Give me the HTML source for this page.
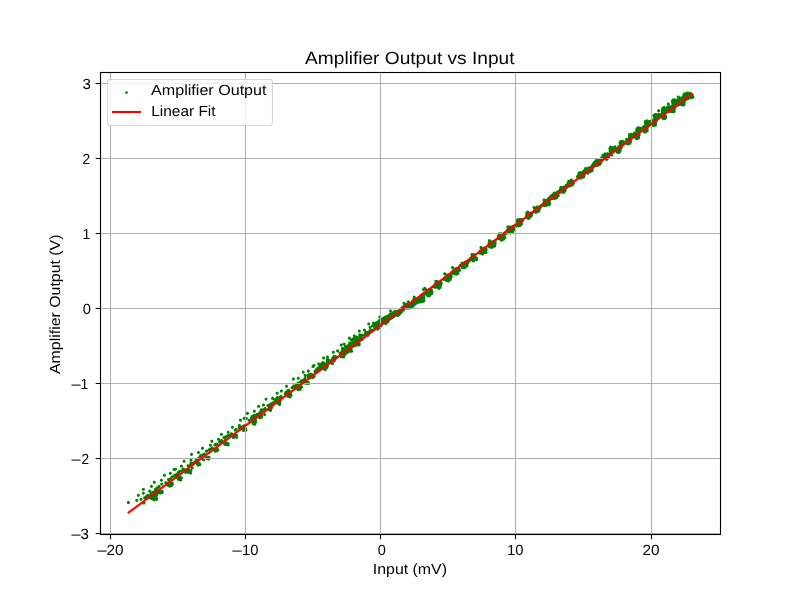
<!DOCTYPE html>
<html><head><meta charset="utf-8"><title>Amplifier Output vs Input</title><style>html,body{margin:0;padding:0;background:#fff;overflow:hidden}svg{display:block}text{text-rendering:geometricPrecision}</style></head>
<body><svg width="800" height="600" viewBox="0 0 800 600"><rect x="0" y="0" width="800" height="600" fill="#fff"/><path fill="#008000" fill-rule="evenodd" d="M197.88 451.09L197.37 451.42L197.04 451.93L196.92 452.52L197.04 453.11L197.37 453.62L197.88 453.95L198.47 454.07L199.06 453.95L199.57 453.62L199.90 453.11L200.02 452.52L199.90 451.93L199.57 451.42L199.06 451.09L198.47 450.97ZM190.94 452.90L190.43 453.23L190.10 453.74L189.98 454.33L190.10 454.92L190.43 455.43L190.94 455.76L191.53 455.88L192.12 455.76L192.63 455.43L192.96 454.92L193.08 454.33L192.96 453.74L192.63 453.23L192.12 452.90L191.53 452.78ZM199.96 454.29L199.27 454.87L199.03 455.42L198.95 455.99L198.27 456.38L197.93 456.89L197.83 457.30L197.03 457.56L196.60 457.99L196.41 458.40L195.61 458.50L194.92 459.07L194.65 459.93L194.82 460.62L193.00 461.53L192.33 462.18L191.90 461.75L191.26 461.51L191.86 461.28L192.43 460.58L192.55 459.99L192.29 459.13L191.59 458.56L191.00 458.44L190.41 458.56L189.90 458.89L189.48 459.69L189.57 460.58L190.14 461.28L190.78 461.52L190.18 461.75L189.61 462.45L189.45 463.40L189.58 464.02L188.83 464.44L188.11 464.25L187.51 464.37L186.82 464.94L186.56 465.80L186.67 466.39L187.01 466.90L187.51 467.23L188.11 467.35L188.70 467.23L189.21 466.89L189.93 467.08L190.79 466.82L191.32 466.20L196.52 462.03L196.61 461.69L196.42 461.46L196.80 461.36L197.30 461.03L197.68 460.38L198.48 460.28L198.99 459.94L199.32 459.44L199.42 459.03L199.96 458.91L200.46 458.58L200.89 457.77L201.57 457.38L201.91 456.87L203.34 456.25L203.91 455.55L204.60 455.57L205.39 455.15L205.73 454.64L205.84 454.05L205.73 453.46L205.39 452.96L204.89 452.62L204.29 452.50L203.43 452.76L202.86 453.46L202.17 453.44L201.03 453.89L200.58 454.18ZM183.21 459.98L182.78 460.41L182.55 460.97L182.55 461.57L182.78 462.13L183.21 462.56L183.77 462.79L184.37 462.79L184.93 462.56L185.36 462.13L185.59 461.57L185.59 460.97L185.36 460.41L184.93 459.98L184.37 459.75L183.77 459.75ZM198.62 461.75L198.03 462.19L197.14 462.11L196.58 462.34L196.15 462.77L195.92 463.32L196.01 464.22L196.55 464.89L196.55 465.46L196.79 466.02L197.21 466.44L197.77 466.67L198.67 466.59L199.21 466.20L199.73 466.30L200.32 466.18L201.02 465.61L201.25 465.05L201.25 464.45L201.02 463.89L200.71 463.56L200.73 462.88L200.50 462.32L200.07 461.90L199.51 461.66ZM180.81 464.64L180.30 464.97L179.97 465.48L179.85 466.07L179.97 466.66L180.30 467.17L180.81 467.50L181.40 467.62L181.99 467.50L182.50 467.17L182.83 466.66L182.95 466.07L182.83 465.48L182.50 464.97L181.99 464.64L181.40 464.52ZM191.68 466.62L190.98 467.19L190.75 467.75L190.84 468.64L191.32 469.27L190.87 469.19L190.20 469.35L189.79 468.63L189.00 468.20L188.10 468.29L187.39 468.90L186.84 468.98L185.20 467.91L184.36 468.25L183.86 467.70L183.30 467.47L182.70 467.47L182.14 467.70L181.71 468.13L181.48 468.69L181.59 469.61L180.61 470.01L180.29 469.82L179.70 469.70L178.83 469.96L178.41 470.39L178.18 470.92L177.34 471.18L176.91 471.61L176.68 472.17L176.70 472.84L176.16 473.06L175.69 473.57L174.95 473.38L174.09 473.64L173.66 474.06L173.42 474.80L172.97 475.10L172.65 475.59L172.23 475.43L171.63 475.43L170.83 475.85L170.41 476.65L170.46 477.40L169.88 477.52L169.37 477.86L168.68 477.97L167.45 478.62L167.11 479.12L167.02 480.02L167.45 480.81L168.20 481.22L167.65 481.45L167.16 482.00L166.89 481.62L166.39 481.28L165.49 481.20L164.70 481.62L164.36 482.12L164.27 483.02L164.50 483.58L164.86 483.95L165.12 484.74L165.81 485.31L166.44 485.42L166.69 486.13L167.11 486.55L167.67 486.79L168.19 486.79L168.55 487.34L169.34 487.77L170.23 487.68L170.84 487.21L171.62 487.27L172.41 486.84L172.81 486.14L173.18 485.97L173.60 485.54L173.84 484.98L173.84 484.38L173.60 483.81L173.71 482.89L173.48 482.33L172.78 481.76L172.19 481.64L171.64 481.74L171.13 481.15L170.57 480.92L169.96 480.92L169.17 481.34L168.86 481.23L169.86 480.83L170.37 480.49L170.77 480.47L171.33 480.24L171.90 479.54L172.02 478.95L171.94 478.50L172.79 478.24L173.35 477.56L174.07 477.75L174.85 477.53L175.10 478.31L175.53 478.74L176.09 478.97L176.93 478.90L176.86 479.35L176.98 479.94L177.31 480.45L177.82 480.78L178.41 480.90L179.22 480.67L179.56 481.19L180.35 481.61L180.96 481.61L181.52 481.38L182.09 480.68L182.20 480.09L182.02 479.36L182.52 479.03L182.85 478.53L182.94 477.63L182.52 476.84L181.78 476.43L181.24 475.80L180.38 475.54L179.74 475.68L179.63 475.00L179.04 474.29L179.70 473.74L179.93 473.18L179.95 472.77L180.56 472.54L181.01 472.07L181.49 472.21L184.69 471.15L185.80 470.35L185.90 471.01L185.33 471.01L184.77 471.24L184.34 471.67L184.11 472.23L184.20 473.12L184.77 473.82L185.33 474.05L185.94 474.05L186.49 473.82L187.06 473.14L187.37 473.42L187.93 473.65L188.54 473.65L189.08 473.43L189.50 474.21L190.00 474.54L190.59 474.66L191.19 474.54L191.88 473.97L192.11 473.41L192.11 472.81L191.71 472.04L192.16 471.60L192.42 470.74L192.30 470.15L191.82 469.52L192.57 469.57L193.13 469.34L193.70 468.64L193.82 468.05L193.70 467.46L193.13 466.76L192.27 466.50ZM174.67 467.98L174.07 467.93L173.48 468.05L172.97 468.38L172.64 468.89L172.52 469.48L172.64 470.07L172.97 470.58L173.48 470.91L174.07 471.03L174.66 470.91L174.99 470.72L175.83 470.79L176.63 470.37L176.96 469.86L177.05 468.97L176.63 468.17L176.12 467.84L175.53 467.72ZM169.74 471.89L169.23 472.22L168.90 472.73L168.78 473.32L168.90 473.91L169.23 474.42L169.74 474.75L170.33 474.87L170.92 474.75L171.43 474.42L171.76 473.91L171.88 473.32L171.76 472.73L171.43 472.22L170.92 471.89L170.33 471.77ZM163.61 474.06L163.18 474.49L162.95 475.05L162.95 475.65L163.18 476.21L163.61 476.64L164.17 476.87L164.77 476.87L165.33 476.64L165.76 476.21L165.99 475.65L165.99 475.05L165.76 474.49L165.33 474.06L164.77 473.83L164.17 473.83ZM160.62 478.96L160.19 479.39L159.96 479.95L159.96 480.55L160.19 481.11L160.62 481.54L161.18 481.77L161.78 481.77L162.34 481.54L162.77 481.11L163.00 480.55L163.00 479.95L162.77 479.39L162.34 478.96L161.78 478.73L161.18 478.73ZM153.74 480.85L153.23 481.18L152.90 481.69L152.78 482.28L152.90 482.87L153.23 483.38L153.74 483.71L154.33 483.83L154.92 483.71L155.43 483.38L155.76 482.87L155.88 482.28L155.76 481.69L155.43 481.18L154.92 480.85L154.33 480.73ZM161.21 482.77L160.70 483.10L160.37 483.61L160.25 484.20L160.37 484.79L160.70 485.30L161.21 485.63L161.80 485.75L162.39 485.63L162.90 485.30L163.23 484.79L163.35 484.20L163.23 483.61L162.90 483.10L162.39 482.77L161.80 482.65ZM150.86 484.90L150.35 485.23L150.02 485.74L149.90 486.33L150.02 486.92L150.35 487.43L150.86 487.76L151.45 487.88L152.04 487.76L152.55 487.43L152.88 486.92L153.00 486.33L152.88 485.74L152.55 485.23L152.04 484.90L151.45 484.78ZM158.27 485.04L157.70 485.74L157.60 486.52L156.69 486.60L156.19 486.94L155.82 487.56L154.98 487.65L154.29 488.22L154.02 489.09L154.14 489.68L154.37 490.05L153.82 490.40L153.53 490.82L152.94 490.70L152.35 490.82L151.85 491.15L151.47 491.78L151.16 491.76L151.27 490.83L151.04 490.27L150.61 489.84L149.75 489.58L149.16 489.70L148.65 490.03L148.32 490.54L148.23 491.43L148.46 491.99L148.89 492.42L149.45 492.65L149.82 492.67L149.68 493.30L149.76 493.76L149.32 494.19L149.14 494.60L148.44 494.02L147.85 493.90L147.25 494.02L146.75 494.35L146.34 495.10L145.64 495.21L145.14 495.54L144.72 496.33L144.07 496.44L143.57 496.78L143.23 497.28L143.11 497.87L143.23 498.47L143.57 498.97L144.07 499.31L144.97 499.59L145.86 499.50L146.56 498.93L146.82 498.08L147.43 497.62L147.98 498.28L148.54 498.51L148.91 498.53L149.25 499.05L149.75 499.39L150.34 499.51L150.79 499.44L151.06 499.83L151.57 500.16L152.48 500.24L152.87 500.94L153.67 501.36L154.56 501.27L155.07 500.94L155.34 500.56L155.88 500.95L156.47 501.07L157.07 500.95L157.57 500.61L157.91 500.11L158.32 498.69L158.06 497.82L157.40 497.27L157.58 496.56L157.46 495.98L157.93 495.67L158.26 495.17L158.38 494.57L158.29 494.07L158.66 493.72L159.19 494.34L160.06 494.60L160.65 494.48L161.17 494.13L161.97 494.36L162.56 494.24L163.06 493.90L163.40 493.40L163.52 492.81L163.42 492.30L163.62 491.97L163.73 491.38L163.47 490.51L163.05 490.09L162.49 489.86L161.59 489.94L161.00 490.39L160.35 490.08L159.74 490.08L159.11 490.38L158.26 490.10L158.01 489.40L158.38 489.13L158.73 488.57L159.36 488.58L160.15 488.16L160.57 487.36L160.68 486.33L160.42 485.47L159.72 484.90L159.13 484.78ZM142.76 487.89L142.25 488.22L141.92 488.73L141.80 489.32L141.92 489.91L142.25 490.42L142.76 490.75L143.35 490.87L143.94 490.75L144.45 490.42L144.78 489.91L144.90 489.32L144.78 488.73L144.45 488.22L143.94 487.89L143.35 487.77ZM142.76 491.84L142.25 492.17L141.92 492.68L141.80 493.27L141.92 493.86L142.25 494.37L142.76 494.70L143.35 494.82L143.94 494.70L144.45 494.37L144.78 493.86L144.90 493.27L144.78 492.68L144.45 492.17L143.94 491.84L143.35 491.72ZM137.74 493.97L137.23 494.30L136.90 494.81L136.78 495.40L136.90 495.99L137.23 496.50L137.74 496.83L138.33 496.95L138.92 496.83L139.43 496.50L139.76 495.99L139.88 495.40L139.76 494.81L139.43 494.30L138.92 493.97L138.33 493.85ZM140.41 497.92L139.90 498.25L139.57 498.76L139.45 499.35L139.57 499.94L139.90 500.45L140.41 500.78L141.00 500.90L141.59 500.78L142.10 500.45L142.43 499.94L142.55 499.35L142.43 498.76L142.10 498.25L141.59 497.92L141.00 497.80ZM136.14 498.98L135.63 499.31L135.30 499.82L135.18 500.41L135.30 501.00L135.63 501.51L136.14 501.84L136.73 501.96L137.32 501.84L137.83 501.51L138.16 501.00L138.28 500.41L138.16 499.82L137.83 499.31L137.32 498.98L136.73 498.86ZM127.82 501.12L127.31 501.45L126.98 501.96L126.86 502.55L126.98 503.14L127.31 503.65L127.82 503.98L128.41 504.10L129.00 503.98L129.51 503.65L129.84 503.14L129.96 502.55L129.84 501.96L129.51 501.45L129.00 501.12L128.41 501.00ZM143.40 501.76L142.89 502.09L142.56 502.60L142.44 503.19L142.56 503.78L142.89 504.29L143.40 504.62L143.99 504.74L144.58 504.62L145.09 504.29L145.42 503.78L145.54 503.19L145.42 502.60L145.09 502.09L144.58 501.76L143.99 501.64ZM257.74 405.06L257.31 405.49L257.08 406.05L257.08 406.65L257.31 407.21L257.74 407.64L258.30 407.87L258.90 407.87L259.46 407.64L259.89 407.21L260.12 406.65L260.12 406.05L259.89 405.49L259.46 405.06L258.90 404.83L258.30 404.83ZM260.41 408.58L259.98 409.01L259.75 409.57L259.75 410.17L259.93 410.63L259.48 410.82L259.05 411.25L258.82 411.81L258.81 412.33L258.06 412.43L257.43 412.92L257.07 412.87L256.48 412.99L255.17 414.05L254.62 414.26L254.23 414.12L253.63 414.12L253.07 414.35L252.54 414.97L251.78 414.93L251.23 415.16L250.66 415.85L250.54 416.45L250.64 417.00L250.15 417.34L249.81 417.84L249.69 418.43L249.84 419.09L249.07 418.88L248.48 418.99L247.98 419.33L247.64 419.83L247.52 420.43L247.79 421.29L248.48 421.86L249.07 421.98L249.67 421.86L250.36 421.29L250.62 420.43L250.47 419.77L251.27 419.98L251.30 420.20L250.78 420.85L250.69 421.75L251.12 422.54L251.95 422.97L251.64 423.62L251.64 424.23L251.88 424.79L252.57 425.36L253.17 425.47L253.87 425.29L254.56 425.63L255.16 425.63L255.72 425.40L256.15 424.97L256.41 424.11L256.29 423.50L256.93 422.96L257.16 422.40L257.16 421.80L256.93 421.24L257.03 420.33L256.80 419.77L256.48 419.43L256.72 419.16L256.95 418.60L256.95 417.99L256.70 417.41L257.24 416.92L257.47 416.36L257.81 416.88L258.23 417.18L258.11 417.78L258.37 418.64L258.80 419.07L259.35 419.30L260.25 419.21L260.75 418.88L260.98 418.59L261.74 418.80L262.33 418.68L262.83 418.34L263.17 417.84L263.26 416.94L262.90 416.23L263.11 415.45L263.00 414.86L262.66 414.36L261.91 413.95L261.89 413.45L261.67 412.90L261.82 412.54L262.60 412.44L263.10 412.10L263.44 411.60L263.54 411.16L264.33 410.91L264.76 410.48L264.96 410.04L265.73 409.94L266.23 409.60L266.57 409.10L266.65 408.20L266.23 407.41L265.73 407.07L265.13 406.95L264.27 407.22L263.85 407.64L263.65 408.09L262.88 408.19L262.25 408.68L261.86 408.44L261.27 408.32ZM253.74 409.82L253.23 410.15L252.90 410.66L252.78 411.25L252.90 411.84L253.23 412.35L253.74 412.68L254.33 412.80L254.92 412.68L255.43 412.35L255.76 411.84L255.88 411.25L255.76 410.66L255.43 410.15L254.92 409.82L254.33 409.70ZM246.54 412.10L246.11 412.53L245.88 413.09L245.88 413.69L246.11 414.25L246.54 414.68L247.10 414.91L247.70 414.91L248.26 414.68L248.69 414.25L248.92 413.69L248.92 413.09L248.69 412.53L248.26 412.10L247.70 411.87L247.10 411.87ZM243.34 417.11L242.77 417.81L242.65 418.40L242.91 419.26L243.61 419.83L244.50 419.92L245.26 419.52L246.03 419.92L246.63 419.92L247.43 419.50L247.76 418.99L247.88 418.40L247.76 417.81L247.43 417.30L246.92 416.97L246.03 416.88L245.26 417.28L244.79 416.97L244.20 416.85ZM239.61 418.92L239.18 419.35L238.95 419.91L238.95 420.51L239.18 421.07L239.61 421.50L240.17 421.73L240.77 421.73L241.33 421.50L241.76 421.07L241.99 420.51L241.99 419.91L241.76 419.35L241.33 418.92L240.77 418.69L240.17 418.69ZM238.81 423.90L238.11 424.47L237.88 425.03L237.97 425.92L238.32 426.44L237.89 427.24L237.89 427.85L238.01 428.19L237.25 428.80L236.70 428.15L236.14 427.91L235.53 427.91L234.97 428.15L234.46 428.74L234.03 429.03L233.70 429.54L233.61 430.43L234.03 431.23L234.83 431.65L235.72 431.56L236.23 431.23L236.51 430.82L236.93 430.53L237.33 429.80L239.98 429.37L240.73 428.90L240.75 429.27L240.98 429.83L241.41 430.26L242.11 430.51L242.13 430.86L242.36 431.42L243.06 431.99L243.95 432.07L244.51 431.84L244.88 431.48L245.54 431.80L246.15 431.80L246.94 431.37L247.28 430.87L247.40 430.28L247.28 429.68L247.05 429.31L247.15 428.39L246.73 427.59L245.93 427.17L244.99 427.26L244.09 426.98L243.50 427.10L242.90 427.56L242.79 427.52L243.39 427.08L244.99 424.42L245.02 424.21L244.91 424.03L244.60 424.00L242.47 425.06L240.59 426.32L240.83 425.92L240.95 425.33L240.69 424.47L240.26 424.04L239.70 423.81ZM231.61 425.96L231.18 426.39L230.95 426.95L230.95 427.55L231.18 428.11L231.61 428.54L232.17 428.77L232.77 428.77L233.33 428.54L233.76 428.11L233.99 427.55L233.99 426.95L233.76 426.39L233.33 425.96L232.77 425.73L232.17 425.73ZM227.34 430.98L226.91 431.41L226.68 431.97L226.68 432.57L226.91 433.13L227.34 433.56L227.90 433.79L228.50 433.79L229.06 433.56L229.49 433.13L229.72 432.57L229.72 431.97L229.49 431.41L229.06 430.98L228.50 430.75L227.90 430.75ZM230.95 432.28L230.25 432.85L230.02 433.41L230.00 433.78L229.27 433.87L228.63 434.17L227.90 433.98L227.31 434.09L226.61 434.67L226.38 435.25L225.76 435.36L225.40 435.58L225.00 435.52L224.41 435.64L223.83 436.06L223.21 436.30L222.78 436.73L222.55 437.29L222.55 437.89L222.78 438.45L223.21 438.88L223.70 439.09L224.27 439.80L224.83 440.03L225.44 440.03L226.23 439.60L226.57 439.10L226.67 438.31L227.45 437.89L227.88 437.07L228.34 437.01L228.84 437.20L229.44 437.20L230.77 436.61L231.13 436.27L231.45 436.75L232.06 437.12L231.99 437.55L232.11 438.14L232.44 438.65L232.94 438.98L233.54 439.10L234.40 438.84L234.83 438.41L235.09 437.58L235.36 438.29L236.06 438.86L236.95 438.95L237.75 438.52L238.08 438.02L238.20 437.43L238.08 436.83L237.56 436.17L237.80 435.79L237.91 435.20L237.80 434.60L237.46 434.10L236.67 433.68L235.80 433.76L235.17 433.26L234.58 433.14L233.72 433.41L233.29 433.83L233.11 434.21L233.01 434.18L233.06 433.41L232.64 432.62L231.84 432.19ZM220.81 432.96L220.30 433.29L219.97 433.80L219.85 434.39L219.97 434.98L220.30 435.49L220.81 435.82L221.40 435.94L221.99 435.82L222.50 435.49L222.83 434.98L222.95 434.39L222.83 433.80L222.50 433.29L221.99 432.96L221.40 432.84ZM217.66 437.90L217.09 438.60L216.97 439.19L217.09 439.78L217.66 440.48L218.53 440.74L218.36 441.19L218.35 441.72L218.01 441.84L217.92 442.18L219.59 443.88L219.90 443.95L223.20 442.83L224.34 440.60L224.30 440.28L224.00 440.18L223.06 440.41L222.95 439.75L222.61 439.24L222.11 438.91L221.51 438.79L220.65 439.05L220.23 439.48L220.02 439.96L219.87 439.94L220.04 439.49L220.04 438.89L219.62 438.09L219.11 437.76L218.52 437.64ZM211.21 439.78L210.70 440.11L210.37 440.62L210.25 441.21L210.37 441.80L210.70 442.31L211.21 442.64L211.80 442.76L212.39 442.64L212.90 442.31L213.23 441.80L213.35 441.21L213.23 440.62L212.90 440.11L212.39 439.78L211.80 439.66ZM224.91 441.60L224.58 442.10L224.48 442.48L223.43 442.85L223.25 443.01L223.23 445.27L223.33 445.49L225.04 446.10L225.28 445.95L225.66 446.08L226.27 446.08L226.95 445.75L227.39 446.20L228.25 446.46L228.84 446.34L229.35 446.00L229.68 445.50L229.80 444.91L229.52 444.03L229.57 443.27L229.14 442.48L228.35 442.05L227.45 442.14L227.10 441.60L226.31 441.18L225.71 441.18ZM214.73 443.44L214.39 443.53L213.88 443.86L213.46 444.66L213.55 445.55L213.88 446.06L214.39 446.39L215.28 446.48L215.84 446.25L216.32 445.73L216.98 445.85L217.58 445.73L218.08 445.40L218.41 444.90L218.53 444.30L218.41 443.71L218.08 443.21L217.58 442.87L215.77 442.68L215.21 442.91ZM209.82 443.84L209.31 444.17L208.98 444.68L208.86 445.27L208.98 445.86L209.31 446.37L209.82 446.70L210.41 446.82L211.00 446.70L211.51 446.37L211.84 445.86L211.96 445.27L211.84 444.68L211.51 444.17L211.00 443.84L210.41 443.72ZM211.45 446.79L211.02 447.22L210.85 447.58L210.28 447.47L209.69 447.59L208.97 448.20L208.44 448.42L208.01 448.85L207.75 449.66L207.33 449.50L206.72 449.50L205.88 449.70L205.37 450.03L205.04 450.54L204.92 451.13L205.04 451.72L205.37 452.23L206.17 452.65L206.77 452.65L207.62 452.45L208.12 452.11L208.46 451.61L208.57 451.07L209.30 451.26L210.05 451.06L210.79 451.26L211.39 451.14L212.08 450.57L212.31 450.01L212.33 449.63L212.90 449.51L213.00 450.31L213.34 450.82L213.69 451.07L213.69 451.63L213.93 452.19L214.62 452.76L215.52 452.85L216.08 452.62L216.38 452.33L216.98 452.46L217.85 452.20L218.27 451.77L218.53 450.99L218.94 450.70L219.28 450.20L219.40 449.61L219.28 449.01L218.94 448.51L218.44 448.17L217.85 448.06L217.15 448.23L216.54 447.76L215.94 447.64L215.35 447.76L214.75 448.21L213.84 448.29L213.75 447.49L213.17 446.79L212.31 446.53ZM201.66 446.96L201.23 447.39L201.00 447.95L201.00 448.55L201.23 449.11L201.66 449.54L202.22 449.77L202.82 449.77L203.38 449.54L203.81 449.11L204.04 448.55L204.04 447.95L203.81 447.39L203.38 446.96L202.82 446.73L202.22 446.73ZM205.69 455.99L205.12 456.69L205.03 457.59L205.26 458.14L205.80 458.63L205.90 459.41L206.23 459.91L207.02 460.33L207.71 460.31L208.05 460.51L208.64 460.63L209.24 460.51L209.74 460.18L210.16 459.38L210.12 458.65L210.41 458.05L210.53 457.45L210.41 456.86L210.08 456.36L209.58 456.02L208.98 455.90L208.39 456.02L207.84 456.42L207.41 455.99L206.85 455.76L206.25 455.76ZM203.01 458.40L202.51 458.73L202.17 459.23L202.05 459.83L202.17 460.42L202.51 460.92L203.01 461.26L203.60 461.38L204.20 461.26L204.70 460.92L205.03 460.42L205.15 459.83L205.03 459.23L204.70 458.73L204.20 458.40L203.60 458.28ZM313.34 364.04L312.83 364.37L312.45 365.05L311.77 365.43L311.35 366.23L311.35 366.83L311.58 367.39L312.01 367.82L312.57 368.05L313.17 368.05L313.73 367.82L314.16 367.39L314.35 366.95L315.03 366.57L315.45 365.77L315.36 364.88L315.03 364.37L314.23 363.95ZM317.67 366.37L317.24 366.80L317.00 367.43L316.40 367.55L315.90 367.89L315.56 368.39L315.45 368.87L314.71 369.51L314.38 370.01L314.28 370.36L313.94 370.61L313.60 371.11L313.48 371.71L313.60 372.30L314.17 373.00L315.03 373.26L315.88 373.00L316.65 373.21L317.24 373.10L317.74 372.76L318.14 372.05L318.68 372.04L319.24 371.81L319.67 371.38L319.89 370.87L320.76 370.77L321.26 370.44L321.55 370.02L322.19 370.16L322.65 370.09L323.40 370.29L323.89 370.20L324.27 370.85L325.06 371.28L325.67 371.28L326.23 371.05L326.65 370.62L326.89 370.06L326.89 369.46L326.70 368.99L327.58 368.90L328.09 368.56L328.42 368.06L328.52 367.25L328.89 366.52L328.80 365.62L328.47 365.12L328.07 364.84L328.41 364.15L328.42 363.60L328.92 363.49L329.49 363.07L329.71 363.57L330.14 364.00L330.69 364.23L331.09 364.25L331.45 364.83L332.25 365.25L333.14 365.17L333.84 364.60L334.10 363.73L333.84 362.87L333.14 362.30L332.45 362.19L332.33 361.92L332.93 361.58L333.44 362.16L334.30 362.42L334.89 362.31L335.59 361.73L335.82 361.18L335.82 360.57L335.59 360.01L335.28 359.69L335.61 359.46L336.00 359.44L336.56 359.21L336.99 358.78L337.22 358.22L337.22 357.62L337.04 357.17L337.12 356.32L336.88 355.76L336.19 355.19L335.59 355.07L335.00 355.19L334.65 355.40L333.76 355.11L332.90 355.37L332.33 356.07L332.21 356.66L332.28 357.10L331.49 357.53L331.16 358.03L331.04 358.62L331.12 359.10L330.26 359.33L329.76 359.66L329.65 359.05L329.31 358.54L328.81 358.21L328.38 358.10L328.64 357.81L328.87 357.25L328.87 356.65L328.64 356.09L328.21 355.66L327.65 355.43L327.05 355.43L326.49 355.66L325.92 356.36L325.83 357.25L326.25 358.05L326.77 358.39L325.97 358.81L325.63 359.31L325.51 359.91L325.63 360.50L325.93 360.96L325.75 361.27L325.64 361.86L325.88 362.69L325.58 363.02L325.18 362.93L325.07 362.24L324.50 361.55L323.94 361.31L322.71 361.16L322.12 361.28L321.61 361.62L321.28 362.12L321.16 362.71L320.70 362.73L320.04 363.04L319.32 362.44L318.73 362.32L318.14 362.44L317.63 362.77L317.30 363.28L317.21 364.17L317.63 364.97L318.39 365.38L318.58 366.12L318.22 366.14ZM325.84 366.43L325.61 366.77L325.43 366.35L325.11 366.01L325.90 365.76ZM329.23 360.81L329.31 360.74L329.32 360.88ZM325.51 367.91L325.65 368.24L325.31 368.21L325.43 368.07ZM307.42 369.83L306.99 370.26L306.76 370.82L306.76 371.42L306.99 371.98L307.42 372.41L307.98 372.64L308.58 372.64L309.14 372.41L309.57 371.98L309.80 371.42L309.80 370.82L309.57 370.26L309.14 369.83L308.58 369.60L307.98 369.60ZM302.68 370.76L302.17 371.09L301.84 371.60L301.72 372.19L301.84 372.78L302.17 373.29L302.68 373.62L303.27 373.74L303.86 373.62L304.37 373.29L304.70 372.78L304.82 372.19L304.70 371.60L304.37 371.09L303.86 370.76L303.27 370.64ZM309.96 372.73L309.35 373.20L308.57 373.15L308.01 373.38L307.53 373.91L306.83 374.30L306.49 374.80L306.38 375.29L305.51 373.72L303.60 374.31L303.52 374.64L304.39 376.82L303.86 377.16L303.52 377.67L303.40 378.26L303.48 378.73L302.60 378.82L301.90 379.38L301.15 379.18L300.29 379.44L299.72 380.14L299.61 380.88L299.31 381.11L299.01 381.54L298.51 381.45L297.92 381.57L297.41 381.91L297.02 382.57L296.53 382.58L295.97 382.81L295.40 383.51L295.30 384.26L294.86 384.36L294.49 384.59L293.73 384.38L292.87 384.65L292.30 385.34L292.20 386.15L291.72 386.17L291.16 386.40L290.59 387.09L290.50 387.99L290.93 388.78L291.43 389.12L292.33 389.21L292.89 388.98L293.37 388.43L293.98 388.80L294.68 388.91L294.90 389.19L295.40 389.52L296.00 389.64L296.57 389.53L296.64 390.09L296.87 390.65L297.56 391.22L298.46 391.31L299.02 391.08L299.31 390.81L299.82 391.02L300.42 391.02L301.22 390.59L301.55 390.09L301.67 389.50L301.46 388.72L302.14 388.52L302.64 388.18L303.07 387.39L303.07 386.78L302.83 386.23L302.41 385.80L301.56 385.54L301.45 385.08L301.22 384.70L301.59 383.97L301.55 383.24L301.86 382.74L301.95 383.08L302.29 383.59L302.79 383.92L303.25 384.03L303.85 384.48L304.44 384.60L305.29 384.35L305.74 384.83L306.30 385.06L307.20 384.97L307.72 384.61L308.37 384.91L308.97 384.91L309.77 384.49L310.19 383.69L310.10 382.80L309.77 382.29L309.41 382.03L309.16 381.33L308.73 380.90L308.17 380.67L307.46 380.70L307.12 380.50L306.62 380.39L306.61 379.85L306.24 379.12L306.47 378.56L306.47 377.96L306.24 377.40L305.78 376.95L306.69 376.33L306.95 376.82L306.86 377.32L306.98 377.91L307.32 378.41L307.82 378.75L308.41 378.87L309.14 378.68L309.65 379.02L310.24 379.14L310.84 379.02L311.49 378.50L311.96 379.01L312.82 379.27L313.68 379.01L314.11 378.58L314.34 377.98L314.82 377.87L315.32 377.53L315.66 377.03L315.77 376.44L315.51 375.58L314.82 375.01L314.16 374.89L314.14 374.43L313.91 373.88L313.22 373.30L312.62 373.19L311.89 373.38L311.42 372.87L310.56 372.61ZM297.39 376.98L296.96 377.41L296.73 377.97L296.73 378.57L296.96 379.13L297.39 379.56L297.95 379.79L298.55 379.79L299.11 379.56L299.54 379.13L299.77 378.57L299.77 377.97L299.54 377.41L299.11 376.98L298.55 376.75L297.95 376.75ZM292.76 377.58L292.25 377.91L291.92 378.42L291.80 379.01L291.92 379.60L292.25 380.11L292.76 380.44L293.35 380.56L293.94 380.44L294.45 380.11L294.78 379.60L294.90 379.01L294.78 378.42L294.45 377.91L293.94 377.58L293.35 377.46ZM285.93 384.84L285.42 385.17L285.09 385.68L284.97 386.27L285.09 386.86L285.42 387.37L285.93 387.70L286.52 387.82L287.11 387.70L287.62 387.37L287.95 386.86L288.07 386.27L287.95 385.68L287.62 385.17L287.11 384.84L286.52 384.72ZM288.68 388.78L287.95 389.15L287.40 389.16L286.84 389.39L286.41 389.82L286.16 390.58L285.83 390.67L285.32 391.00L284.56 391.93L284.32 392.58L283.80 393.24L283.71 394.14L284.13 394.93L284.63 395.27L285.02 395.37L285.23 395.88L285.66 396.30L286.22 396.54L286.74 396.54L286.99 397.28L287.41 397.71L287.97 397.94L288.83 397.87L289.48 398.39L290.38 398.48L290.94 398.24L291.36 397.82L291.60 397.26L291.61 396.82L292.18 396.46L292.51 395.96L292.60 395.06L292.37 394.51L291.96 394.09L292.10 393.45L291.84 392.59L291.41 392.16L290.80 391.92L290.84 391.19L290.51 390.52L290.50 390.00L290.27 389.44L289.84 389.01L289.29 388.78ZM280.81 389.64L280.30 389.97L279.97 390.48L279.85 391.07L279.97 391.66L280.30 392.17L280.81 392.50L281.40 392.62L281.99 392.50L282.50 392.17L282.83 391.66L282.95 391.07L282.83 390.48L282.50 389.97L281.99 389.64L281.40 389.52ZM276.54 391.77L276.03 392.10L275.70 392.61L275.58 393.20L275.70 393.79L276.03 394.30L276.54 394.63L277.13 394.75L277.72 394.63L278.23 394.30L278.56 393.79L278.68 393.20L278.56 392.61L278.23 392.10L277.72 391.77L277.13 391.65ZM280.47 394.98L279.97 395.32L279.58 395.98L278.98 396.10L278.41 396.52L277.60 396.07L277.00 396.07L276.44 396.31L276.01 396.73L275.75 397.57L275.25 397.90L275.00 398.24L274.60 398.18L274.01 398.30L273.90 397.76L273.57 397.25L272.77 396.83L271.88 396.92L271.18 397.49L270.92 398.35L271.18 399.21L271.88 399.78L272.47 399.90L273.06 399.78L273.31 400.59L273.74 401.02L274.36 401.26L274.45 401.53L273.58 401.17L272.68 401.26L272.18 401.60L271.86 402.08L271.13 402.45L270.97 402.53L270.18 402.48L269.62 402.71L269.05 403.40L268.94 404.04L267.63 404.05L267.07 404.28L266.65 404.71L266.38 405.57L266.50 406.16L267.07 406.86L267.73 407.10L267.69 407.83L267.99 408.47L267.46 409.13L267.35 409.73L267.46 410.32L268.03 411.02L268.59 411.25L269.24 411.23L269.68 411.68L270.24 411.91L271.14 411.82L271.64 411.49L271.97 410.98L272.09 410.39L271.81 409.50L272.33 409.29L272.75 408.86L272.99 408.30L272.99 407.75L273.31 407.41L273.54 406.85L273.52 406.18L274.09 405.48L274.21 404.89L274.14 404.43L274.64 404.22L275.03 403.84L275.75 404.20L276.60 404.13L277.20 404.58L277.91 404.68L278.03 405.26L278.36 405.76L279.16 406.19L280.05 406.10L280.75 405.53L280.98 404.97L280.96 404.29L281.14 403.97L281.26 403.38L281.14 402.79L280.83 402.32L281.36 401.66L281.47 401.06L281.37 400.51L281.81 399.92L281.93 399.32L281.67 398.46L281.10 397.96L281.66 397.84L282.16 397.51L282.50 397.01L282.62 396.41L282.50 395.82L281.93 395.12L281.07 394.86ZM265.21 397.91L264.78 398.34L264.55 398.90L264.55 399.50L264.78 400.06L265.21 400.49L265.77 400.72L266.37 400.72L266.93 400.49L267.36 400.06L267.59 399.50L267.59 398.90L267.36 398.34L266.93 397.91L266.37 397.68L265.77 397.68ZM262.81 403.64L262.30 403.97L261.97 404.48L261.85 405.07L261.97 405.66L262.30 406.17L262.81 406.50L263.40 406.62L263.99 406.50L264.50 406.17L264.83 405.66L264.95 405.07L264.83 404.48L264.50 403.97L263.99 403.64L263.40 403.52ZM264.11 413.19L263.60 413.53L263.27 414.03L263.15 414.62L263.27 415.22L263.60 415.72L264.11 416.06L264.70 416.17L265.29 416.06L265.79 415.72L266.13 415.22L266.25 414.62L266.13 414.03L265.79 413.53L265.29 413.19L264.70 413.07ZM363.88 328.64L363.37 328.97L363.04 329.48L362.92 330.07L363.04 330.66L363.37 331.17L363.88 331.50L364.47 331.62L365.21 331.43L364.99 331.86L364.34 332.24L364.01 332.75L363.92 333.64L364.28 334.36L363.82 334.67L363.45 334.06L362.66 333.63L362.05 333.63L361.72 333.74L361.12 333.62L360.55 333.73L359.98 333.50L359.09 333.58L358.58 333.92L358.25 334.42L358.16 335.32L358.45 335.95L358.12 336.68L357.76 336.07L357.25 335.73L356.66 335.61L355.87 335.84L355.62 335.07L354.92 334.50L354.33 334.38L353.74 334.50L353.04 335.07L352.78 335.93L353.04 336.79L353.47 337.22L354.04 337.45L353.93 337.51L353.30 337.37L352.70 337.49L352.20 337.82L351.84 338.39L351.39 338.22L350.86 338.21L350.75 337.48L350.42 336.97L349.91 336.64L349.32 336.52L348.46 336.78L347.89 337.48L347.77 338.07L348.03 338.93L348.73 339.50L349.55 339.60L349.65 340.33L350.22 341.03L350.78 341.26L351.43 341.24L351.28 341.66L351.28 342.24L351.03 342.27L350.50 341.67L349.94 341.44L349.34 341.44L348.78 341.67L348.21 342.37L348.09 342.96L348.21 343.55L348.70 344.18L348.56 344.25L348.00 344.14L347.40 344.26L346.90 344.59L346.55 345.15L346.09 345.37L345.36 345.17L345.72 344.45L345.72 343.85L345.49 343.29L345.06 342.86L344.50 342.63L343.90 342.63L343.34 342.86L342.91 343.29L342.65 344.15L342.77 344.74L343.34 345.44L344.18 345.70L343.82 346.41L343.82 347.02L344.05 347.58L344.71 348.13L344.54 348.27L344.03 347.97L343.79 347.34L343.09 346.77L342.50 346.65L341.64 346.91L341.07 347.61L340.95 348.20L341.07 348.80L341.45 349.34L340.85 349.86L340.59 350.72L340.71 351.31L341.18 351.93L341.13 352.10L340.50 351.60L339.60 351.52L338.81 351.94L338.38 352.73L338.47 353.63L338.92 354.22L339.16 354.93L339.59 355.35L340.30 355.60L339.87 356.18L339.75 356.77L339.87 357.37L340.44 358.06L341.30 358.32L341.90 358.21L342.38 357.88L342.77 358.26L343.33 358.49L344.22 358.41L344.73 358.07L345.06 357.57L345.18 356.97L344.99 356.25L345.58 355.88L345.88 355.45L346.29 355.16L346.63 354.66L346.75 354.07L346.70 353.69L347.45 353.89L348.04 353.77L348.74 353.20L348.98 352.56L349.87 352.85L350.46 352.73L350.82 352.51L351.14 352.69L351.74 352.81L352.33 352.69L352.83 352.36L353.17 351.85L353.26 350.96L352.83 350.17L352.33 349.83L351.96 349.73L352.50 349.25L352.76 348.39L352.50 347.52L351.85 346.98L352.07 346.83L352.23 347.17L352.66 347.60L353.22 347.83L353.82 347.83L354.38 347.60L354.87 347.05L355.51 347.06L356.07 346.83L356.64 346.14L357.06 346.41L357.66 346.53L358.25 346.41L358.56 346.23L359.46 346.32L360.25 345.89L360.67 345.10L360.60 344.25L360.68 343.79L360.56 343.19L360.09 342.58L360.71 342.05L360.97 341.27L361.58 341.28L363.09 340.66L363.52 340.23L363.75 339.68L363.75 339.07L363.52 338.51L362.92 337.99L362.81 337.53L362.48 337.03L361.71 336.61L362.66 336.67L363.43 336.27L363.61 336.64L364.03 337.07L364.89 337.33L365.49 337.21L365.99 336.87L366.56 336.76L367.06 336.43L367.81 336.83L368.71 336.74L369.21 336.40L369.63 335.61L369.63 335.00L369.44 334.51L369.77 334.16L370.00 333.60L369.90 332.66L370.67 332.41L371.10 331.98L371.27 331.61L371.66 331.75L372.27 331.75L372.83 331.52L373.25 331.09L373.52 330.23L373.40 329.64L373.06 329.14L372.27 328.71L371.66 328.71L371.02 329.01L370.69 328.85L371.20 328.52L371.53 328.01L371.65 327.42L371.58 326.97L371.98 327.22L372.57 327.34L373.52 327.04L373.13 327.58L373.02 328.17L373.13 328.77L373.70 329.46L374.26 329.69L374.96 329.67L375.57 329.94L376.34 329.89L376.83 330.43L377.39 330.66L378.28 330.57L378.98 330.00L379.22 329.35L379.77 329.24L380.27 328.90L380.61 328.40L380.73 327.81L381.38 327.57L381.81 327.14L382.04 326.58L382.02 325.92L382.43 325.74L382.85 325.31L383.11 324.48L383.74 324.26L384.24 324.60L384.87 324.71L385.15 324.95L385.70 325.18L386.31 325.18L386.87 324.95L387.44 324.26L387.56 323.66L387.50 323.27L387.86 323.31L388.45 323.19L389.14 322.62L389.38 322.06L389.39 321.57L390.08 321.00L390.31 320.44L390.32 320.00L391.15 320.07L391.71 319.84L392.19 319.31L392.60 319.21L393.11 318.87L393.48 318.26L394.05 318.14L394.55 317.81L394.92 317.18L395.50 317.17L396.06 316.94L396.62 316.27L396.84 316.57L397.35 316.91L398.24 316.99L399.04 316.57L399.38 316.05L400.23 315.79L400.80 315.10L400.89 314.28L401.56 313.89L401.90 313.39L401.99 313.00L402.48 312.90L402.98 312.56L403.32 312.06L403.43 311.50L404.05 311.39L404.56 311.05L404.89 310.55L405.00 310.04L405.55 309.69L405.80 309.35L406.56 309.74L407.17 309.74L407.66 309.55L408.53 309.81L409.39 309.55L409.90 308.97L410.71 309.41L411.61 309.33L412.11 308.99L412.48 308.40L412.86 308.30L413.36 307.96L413.78 307.18L414.11 307.02L414.54 306.59L414.77 306.03L414.79 305.65L415.52 305.55L416.02 305.21L416.32 304.78L417.18 304.52L417.61 304.09L417.82 303.61L418.15 303.72L418.76 303.72L419.42 303.40L419.92 303.60L420.52 303.60L421.08 303.37L421.51 302.94L422.10 303.19L422.70 303.19L423.26 302.96L423.71 302.49L424.08 302.47L424.64 302.23L425.07 301.81L425.30 301.25L425.30 300.64L425.02 300.02L425.39 299.29L425.39 298.69L425.22 298.25L425.40 297.55L425.28 296.95L424.87 296.39L425.40 295.72L425.51 295.00L426.03 294.84L425.90 295.22L425.90 295.82L426.13 296.38L426.56 296.81L427.42 297.07L428.05 296.93L428.68 297.43L429.28 297.55L430.14 297.29L430.71 296.59L430.82 295.93L431.23 295.75L431.71 295.20L432.37 295.09L433.06 294.52L433.32 293.66L433.15 292.97L433.46 292.49L433.58 291.90L433.32 291.04L432.80 290.56L432.84 289.84L432.61 289.28L432.18 288.86L431.16 288.27L429.56 287.92L428.97 288.03L428.47 288.37L428.13 288.87L428.02 289.53L427.80 289.55L427.58 289.03L427.16 288.60L426.60 288.37L426.24 288.35L426.14 287.60L425.56 286.90L424.70 286.64L423.84 286.90L423.41 287.33L423.16 288.15L422.67 288.36L422.24 288.79L422.01 289.35L422.01 289.95L422.43 290.75L423.23 291.17L424.12 291.08L424.63 290.75L424.85 290.45L425.20 290.99L425.58 291.26L425.35 291.91L424.93 291.97L424.08 291.72L423.49 291.84L422.80 292.41L422.56 292.97L422.55 293.41L421.84 293.23L420.98 293.49L420.55 293.92L420.30 294.72L419.93 294.82L419.43 295.15L419.09 295.66L418.99 296.08L418.62 296.18L418.12 296.51L417.71 297.24L417.33 297.27L416.77 297.50L416.26 298.07L415.64 297.80L415.77 297.42L415.77 296.82L415.35 296.02L414.55 295.60L413.66 295.69L413.15 296.02L412.73 296.82L412.73 297.42L412.98 298.01L412.71 298.31L412.48 298.87L412.52 299.59L412.16 299.68L411.66 300.02L411.32 300.52L411.23 301.37L410.54 301.77L410.17 302.38L409.72 302.48L409.80 301.62L409.38 300.82L408.87 300.49L408.28 300.37L407.42 300.63L406.85 301.33L406.76 302.22L407.11 302.93L406.13 303.08L405.52 303.55L405.56 303.20L405.44 302.61L404.87 301.91L404.01 301.65L403.15 301.91L402.58 302.61L402.46 303.20L402.72 304.06L403.35 304.60L403.12 305.36L402.53 305.48L402.03 305.82L401.69 306.32L401.58 306.84L400.99 306.96L400.49 307.29L400.08 308.03L399.53 308.26L399.10 308.69L398.86 309.29L398.16 309.40L397.53 309.90L397.01 309.80L396.42 309.92L395.90 310.27L395.13 309.87L394.23 309.96L393.54 310.53L393.30 311.19L392.56 311.29L392.06 311.63L391.63 312.44L391.18 312.36L391.76 311.85L391.99 311.29L391.99 310.69L391.76 310.13L391.06 309.56L390.47 309.44L389.88 309.56L389.37 309.89L389.04 310.40L388.95 311.29L389.37 312.09L389.88 312.42L390.42 312.54L389.98 312.88L389.28 312.99L388.78 313.33L388.44 313.83L388.34 314.60L387.86 314.52L387.27 314.64L386.77 314.97L386.51 315.32L385.84 315.30L385.28 315.53L384.97 315.82L384.11 315.92L383.41 316.49L383.18 317.07L382.37 317.17L381.87 317.50L381.59 317.90L381.08 317.94L381.32 317.37L381.32 316.77L381.09 316.21L380.66 315.78L379.80 315.52L378.94 315.78L378.37 316.48L378.25 317.07L378.37 317.66L378.94 318.36L379.50 318.59L380.20 318.56L380.09 318.76L379.38 318.73L378.82 318.96L378.39 319.39L378.16 319.97L377.59 320.20L377.16 320.63L376.92 321.33L376.38 321.23L375.79 321.35L375.28 321.69L374.89 322.39L374.39 321.84L373.83 321.61L372.94 321.70L372.43 322.03L372.10 322.54L371.98 323.13L372.10 323.72L372.46 324.25L371.71 324.50L371.28 324.93L371.05 325.49L371.10 326.24L370.41 325.90L369.80 325.90L369.01 326.32L368.67 326.83L368.55 327.42L368.67 328.01L369.01 328.52L369.61 328.88L368.90 329.45L368.34 330.66L367.84 330.77L367.37 331.08L367.06 330.89L366.46 330.77L365.73 330.97L365.90 330.66L366.02 330.07L365.76 329.21L365.06 328.64L364.47 328.52ZM355.13 337.36L355.01 337.33L354.99 337.33L355.12 337.26ZM358.19 337.40L358.56 338.02L357.88 338.11ZM359.88 339.10L359.70 338.70L359.50 338.46L359.87 338.45L360.03 338.86ZM352.45 340.45L352.54 340.26L352.93 340.42L352.80 340.41ZM354.34 340.35L353.83 340.81L353.16 340.46L353.60 340.44L354.07 340.26ZM356.40 340.82L356.40 340.82L356.40 340.83ZM346.32 348.05L346.22 347.99L346.33 348.03ZM348.82 347.97L348.25 347.51L348.39 347.27L348.57 347.64ZM343.13 355.51L342.55 355.86L342.06 355.43L342.44 355.41L343.00 355.18ZM408.87 303.35L408.83 303.48L408.75 303.39ZM358.76 329.70L358.25 330.03L357.92 330.54L357.80 331.13L357.92 331.72L358.25 332.23L358.76 332.56L359.35 332.68L359.94 332.56L360.45 332.23L360.78 331.72L360.90 331.13L360.78 330.54L360.45 330.03L359.94 329.70L359.35 329.58ZM340.62 343.57L340.11 343.90L339.78 344.41L339.66 345.00L339.78 345.59L340.11 346.10L340.62 346.43L341.21 346.55L341.80 346.43L342.31 346.10L342.64 345.59L342.76 345.00L342.64 344.41L342.31 343.90L341.80 343.57L341.21 343.45ZM337.00 349.44L336.49 349.77L336.16 350.28L336.04 350.87L336.16 351.46L336.49 351.97L337.00 352.30L337.59 352.42L338.18 352.30L338.69 351.97L339.02 351.46L339.14 350.87L339.02 350.28L338.69 349.77L338.18 349.44L337.59 349.32ZM332.46 350.96L332.03 351.39L331.80 351.95L331.80 352.55L332.03 353.11L332.46 353.54L333.02 353.77L333.62 353.77L334.18 353.54L334.61 353.11L334.84 352.55L334.84 351.95L334.61 351.39L334.18 350.96L333.62 350.73L333.02 350.73ZM322.67 356.71L322.24 357.14L322.01 357.70L322.01 358.30L322.24 358.86L322.67 359.29L323.23 359.52L323.83 359.52L324.39 359.29L324.82 358.86L325.05 358.30L325.05 357.70L324.82 357.14L324.39 356.71L323.83 356.48L323.23 356.48ZM433.85 283.47L433.43 284.26L433.45 284.94L433.30 285.41L432.36 285.49L431.86 285.82L431.52 286.32L431.41 286.92L431.52 287.51L432.10 288.21L432.96 288.47L433.55 288.35L434.05 288.02L434.59 288.65L435.45 288.91L436.04 288.79L436.70 288.26L437.30 288.73L437.53 289.28L437.95 289.71L438.81 289.97L439.67 289.71L440.24 289.02L441.04 288.76L441.46 288.34L441.73 287.48L441.61 286.88L441.39 286.53L441.73 286.28L442.07 285.78L442.19 285.19L442.06 284.57L442.62 284.08L442.88 283.21L442.62 282.35L441.59 281.16L440.73 280.90L440.14 281.02L439.64 281.35L439.22 282.11L438.89 282.08L438.97 281.60L438.86 281.01L438.28 280.32L437.73 280.08L436.89 280.16L436.16 279.79L435.56 279.79L434.76 280.21L434.43 280.71L434.31 281.31L434.43 281.90L434.67 282.29L434.60 283.06ZM368.14 322.56L367.63 322.89L367.30 323.40L367.18 323.99L367.30 324.58L367.63 325.09L368.14 325.42L368.73 325.54L369.32 325.42L369.83 325.09L370.16 324.58L370.28 323.99L370.16 323.40L369.83 322.89L369.32 322.56L368.73 322.44ZM479.87 246.43L479.44 247.22L479.44 247.83L479.67 248.39L480.34 248.94L480.72 249.42L479.69 249.54L479.18 249.88L478.85 250.38L478.76 251.27L478.37 251.82L478.25 252.41L478.60 253.86L478.94 254.36L479.73 254.79L480.34 254.79L480.88 254.56L481.13 254.67L481.71 255.37L482.57 255.63L483.43 255.37L483.86 254.94L484.09 254.33L485.04 253.80L485.37 253.99L485.96 254.10L486.55 253.99L487.05 253.65L487.48 252.86L487.48 252.25L487.25 251.69L486.64 251.17L487.04 250.99L487.46 250.56L487.72 249.70L487.61 249.10L487.21 248.55L487.39 248.10L487.39 247.49L486.97 246.70L486.47 246.36L485.57 246.27L484.81 246.67L484.18 246.54L483.59 246.66L482.89 247.24L482.34 246.83L481.82 246.24L481.27 246.00L480.37 246.09ZM471.00 253.31L470.58 254.11L470.58 254.71L470.80 255.25L470.50 255.89L470.53 256.63L469.81 257.03L469.41 257.74L469.14 257.95L468.80 258.46L467.99 258.88L467.65 259.39L467.54 260.04L467.08 259.96L466.49 260.08L465.98 260.42L465.69 260.85L465.04 260.70L464.45 260.82L463.75 261.39L463.52 261.99L463.16 262.15L462.84 261.85L462.28 261.62L461.38 261.71L460.88 262.04L460.55 262.54L460.43 263.14L460.52 263.65L460.29 263.96L459.57 264.06L458.88 264.63L458.62 265.49L458.88 266.36L459.57 266.93L460.17 267.04L460.74 266.93L461.07 267.21L460.99 268.10L461.22 268.66L461.65 269.09L462.20 269.32L462.81 269.32L463.37 269.09L463.81 268.63L464.15 268.95L464.70 269.18L465.60 269.09L466.30 268.52L466.53 267.96L466.55 267.56L467.22 267.58L468.01 267.16L468.44 266.36L468.40 265.62L468.55 264.97L468.46 264.48L468.83 264.10L469.06 263.54L468.99 262.70L469.78 262.60L470.29 262.27L470.62 261.77L470.73 261.23L471.39 261.24L471.83 261.07L472.09 261.93L472.52 262.36L473.08 262.59L473.68 262.59L474.48 262.16L474.81 261.66L474.93 261.05L475.57 260.72L476.09 261.07L476.68 261.19L477.27 261.07L477.97 260.50L478.23 259.64L477.96 258.77L478.12 258.09L478.01 257.49L477.43 256.80L476.88 256.57L476.46 256.55L475.62 255.64L475.79 255.19L475.79 254.59L475.37 253.80L474.58 253.37L473.97 253.37L473.42 253.60L472.96 253.12L472.40 252.89L471.51 252.98ZM451.95 266.12L451.44 266.45L451.11 266.96L451.02 267.85L451.25 268.41L451.68 268.84L452.24 269.07L452.61 269.09L452.76 269.74L452.00 269.99L451.57 270.42L451.36 270.89L450.64 271.14L450.21 271.57L449.95 272.43L450.14 273.16L450.07 273.24L449.19 273.33L448.68 273.66L448.40 274.06L448.06 273.73L447.50 273.50L446.89 273.50L446.26 273.79L446.14 273.21L445.81 272.70L445.31 272.37L444.71 272.25L443.85 272.51L443.28 273.21L443.19 274.10L443.62 274.90L444.12 275.23L444.71 275.35L445.31 275.23L445.65 275.03L445.87 275.81L445.75 275.91L445.41 275.79L444.80 275.79L444.01 276.22L443.67 276.72L443.53 277.69L442.82 278.09L442.49 278.59L442.40 279.49L442.63 280.05L443.06 280.48L443.61 280.71L444.36 280.67L445.01 281.47L445.51 281.81L446.41 281.89L446.97 281.66L447.32 282.19L448.11 282.62L448.72 282.62L449.28 282.39L449.71 281.96L449.96 281.14L450.44 281.10L451.00 280.87L451.57 280.17L451.69 279.58L451.63 279.18L452.02 278.64L452.12 277.84L452.54 277.42L452.77 276.86L452.69 275.96L452.28 275.40L452.66 274.86L453.23 274.86L453.62 274.72L454.03 274.91L454.42 275.29L454.98 275.53L455.58 275.53L456.47 275.81L457.06 275.69L457.56 275.35L457.82 275.00L458.54 274.89L459.04 274.56L459.37 274.05L459.49 273.46L459.22 272.58L459.17 271.88L460.10 271.80L460.61 271.46L460.94 270.96L461.06 270.37L460.94 269.78L460.52 269.20L460.44 268.30L459.87 267.60L459.01 267.34L458.41 267.46L458.10 267.64L457.55 266.99L456.69 266.73L455.83 266.99L455.40 267.42L455.15 267.90L454.75 267.65L454.09 267.54L453.83 266.69L453.40 266.26L452.54 266.00ZM526.99 210.68L526.49 211.01L526.15 211.51L526.05 211.94L525.51 212.29L525.17 212.79L525.08 213.68L525.32 214.24L525.73 214.66L525.23 214.99L524.90 215.50L524.81 216.39L525.23 217.18L526.06 217.61L526.04 218.28L526.46 219.08L526.97 219.41L527.47 219.52L528.02 219.92L528.92 220.01L529.71 219.59L530.05 219.09L530.15 218.65L530.63 218.33L530.92 217.92L531.58 217.81L532.28 217.24L532.51 216.68L532.51 216.07L533.03 215.60L533.26 215.04L533.26 214.43L533.11 214.02L533.36 213.62L533.46 213.18L534.13 213.20L534.64 212.99L534.95 213.44L535.45 213.78L536.34 213.86L536.90 213.63L537.45 212.99L538.31 213.06L538.87 212.83L539.40 212.45L539.73 211.95L539.83 211.58L540.25 211.26L540.58 210.76L540.70 210.17L540.55 209.50L541.15 208.79L541.27 208.19L541.23 207.84L541.68 207.62L542.07 207.24L542.92 207.15L543.60 206.59L544.21 207.05L545.10 207.14L545.74 206.84L546.11 206.89L546.70 206.77L547.57 206.30L547.92 205.97L548.36 206.26L548.96 206.38L549.55 206.26L550.05 205.93L550.39 205.42L550.50 204.79L550.85 204.53L551.18 204.03L551.30 203.44L551.04 202.58L550.04 201.77L550.53 201.55L550.96 201.13L551.22 200.24L551.90 200.01L552.71 200.07L553.39 199.74L554.11 200.10L554.71 200.10L555.27 199.87L555.56 199.62L555.96 199.68L556.55 199.56L557.25 198.99L558.02 198.57L558.44 197.78L558.42 197.09L558.89 196.99L559.39 196.65L559.81 195.86L559.81 195.25L559.58 194.69L559.15 194.27L558.58 194.03L558.66 193.86L559.09 194.03L559.70 194.03L560.26 193.80L560.71 193.33L561.17 193.50L561.94 193.45L562.63 193.80L563.78 193.89L564.38 193.77L565.07 193.20L565.30 192.64L565.32 192.19L565.91 191.95L566.48 191.25L566.60 190.66L566.36 189.84L566.67 189.24L566.90 188.98L567.37 188.87L567.87 188.53L568.29 187.78L569.22 187.71L569.85 187.22L570.50 187.23L571.69 186.62L572.46 186.67L573.25 186.24L573.59 185.74L573.68 184.90L574.04 184.81L574.55 184.47L574.88 183.97L575.00 183.38L574.74 182.51L574.31 182.09L573.81 181.87L573.92 181.53L573.92 180.92L573.51 180.00L573.09 179.57L572.66 179.38L572.15 178.81L571.29 178.55L570.70 178.67L570.20 179.01L569.86 179.51L569.75 180.05L569.37 179.82L568.78 179.71L567.92 179.97L567.49 180.40L567.23 181.27L566.77 181.88L566.65 182.47L566.78 183.07L566.72 183.74L566.05 183.72L565.26 184.14L564.92 184.65L564.81 185.31L564.23 185.64L563.71 185.55L563.12 185.66L562.62 186.00L562.29 186.48L561.83 186.00L561.27 185.76L560.67 185.76L560.11 186.00L559.54 186.69L559.44 187.49L559.04 188.04L558.92 188.64L559.07 189.28L558.72 189.93L558.06 189.91L557.50 190.14L557.00 190.71L556.25 191.12L555.82 191.92L555.07 191.53L554.23 191.45L553.36 191.71L552.94 192.14L552.69 192.86L552.29 193.45L551.55 193.70L551.12 194.12L550.87 194.90L550.26 194.90L549.71 195.13L549.13 195.83L549.04 196.62L548.25 196.72L547.74 197.06L547.41 197.56L547.30 198.25L546.80 198.59L546.44 199.16L545.71 198.97L545.24 199.05L544.63 198.59L544.04 198.47L543.44 198.59L542.94 198.93L542.52 199.72L542.52 200.33L542.75 200.88L543.26 201.36L542.92 201.87L542.82 202.23L542.43 202.41L542.00 202.84L541.75 203.63L541.29 203.73L540.79 204.07L540.37 204.86L539.38 205.37L538.94 205.82L537.47 205.45L536.58 205.54L536.07 205.88L535.66 206.64L535.15 206.50L534.87 206.24L534.31 206.01L533.71 206.01L533.15 206.24L532.58 206.94L532.49 207.83L532.91 208.63L533.72 209.05L533.27 209.65L533.15 210.29L532.54 210.81L532.30 211.52L531.93 211.47L531.28 211.62L530.76 211.41L530.15 211.41L529.59 211.64L529.13 212.12L529.02 211.51L528.45 210.82L527.59 210.56ZM518.09 218.29L517.49 218.29L516.93 218.53L516.35 219.25L515.67 219.81L515.44 220.37L515.21 221.60L515.32 222.19L515.86 222.86L515.51 223.35L514.71 223.45L514.20 223.79L513.78 224.59L512.87 224.67L512.36 225.01L512.08 225.41L511.65 225.43L511.01 225.72L510.63 225.59L510.02 225.59L509.47 225.82L509.18 226.07L508.72 225.59L508.17 225.36L507.27 225.45L506.77 225.78L506.43 226.28L506.31 226.88L506.43 227.47L506.96 228.28L506.73 228.90L506.34 229.08L505.91 229.51L505.68 230.07L505.67 230.54L504.85 230.80L504.43 231.23L504.19 231.79L504.17 232.18L503.27 232.27L502.77 232.60L502.51 232.96L501.76 232.44L501.16 232.32L500.31 232.58L499.62 232.24L499.01 232.24L498.22 232.66L497.88 233.17L497.77 233.76L498.05 234.65L497.25 235.08L496.82 235.87L496.82 236.47L497.10 237.09L496.76 237.60L496.67 238.49L496.90 239.05L497.23 239.45L498.19 240.13L498.74 240.36L499.35 240.36L499.84 240.17L500.10 241.03L500.53 241.46L501.09 241.69L501.69 241.69L502.47 241.44L502.97 241.10L503.20 240.80L503.90 240.83L504.46 240.60L505.03 239.90L505.14 239.30L505.87 238.90L506.29 238.11L506.20 237.21L505.87 236.71L505.56 236.47L505.76 235.72L505.67 235.24L506.02 235.21L506.58 234.98L507.12 234.35L507.81 234.52L508.68 234.26L509.46 234.31L510.24 234.53L511.10 234.27L511.57 233.75L512.46 234.04L513.32 233.78L513.75 233.35L513.98 232.79L513.98 232.18L513.85 231.81L514.20 231.39L514.78 231.16L515.21 230.73L515.44 230.17L515.35 229.27L515.55 228.50L516.12 228.15L516.54 227.33L517.31 227.01L517.76 227.31L518.36 227.43L518.95 227.31L519.46 226.96L520.02 227.07L520.62 226.95L521.31 226.38L521.54 225.81L521.98 225.71L522.48 225.37L522.82 224.87L522.94 224.28L522.82 223.68L522.42 223.13L523.16 222.55L523.39 221.99L523.39 221.39L523.95 220.71L524.03 219.82L523.80 219.26L523.38 218.83L521.95 218.05L521.34 218.05L520.70 218.35L520.21 218.02L519.61 217.90L519.02 218.02L518.46 218.42ZM488.54 239.35L487.97 240.05L487.85 240.64L487.97 241.24L488.36 241.79L487.98 242.06L487.64 242.56L487.52 243.15L487.70 243.86L487.26 244.45L487.14 245.04L487.40 245.90L488.13 246.48L488.06 247.31L488.48 248.10L489.28 248.53L489.88 248.53L490.44 248.30L490.66 248.59L491.16 248.93L492.06 249.01L492.62 248.78L493.79 247.62L494.25 247.80L494.86 247.80L495.65 247.37L496.07 246.58L495.98 245.68L496.30 245.19L496.71 243.62L496.59 243.03L496.12 241.92L496.65 241.26L496.77 240.67L496.65 240.08L496.31 239.58L495.81 239.24L494.91 239.15L494.12 239.58L493.70 240.38L493.25 240.21L492.65 240.21L492.09 240.44L491.82 240.67L491.50 240.49L490.92 240.37L490.69 239.78L489.99 239.21L489.40 239.09ZM609.80 145.82L609.23 146.52L609.12 147.19L608.50 147.73L608.24 148.59L608.36 149.18L608.91 149.86L608.55 150.58L608.55 151.19L608.78 151.74L609.30 152.22L608.62 152.75L608.33 152.48L607.77 152.25L606.87 152.34L606.28 152.78L605.77 152.42L604.87 152.34L604.08 152.76L603.74 153.26L603.64 153.67L602.79 153.59L602.23 153.82L601.80 154.25L601.57 154.81L601.51 155.50L601.61 156.14L600.83 156.40L600.40 156.82L600.17 157.38L600.17 157.94L599.91 158.51L599.22 158.62L598.57 159.14L597.69 158.86L597.10 158.98L596.60 159.31L595.88 159.12L595.02 159.38L594.45 160.08L594.33 160.67L594.38 161.02L593.84 161.14L593.34 161.47L593.01 161.98L592.91 162.39L592.41 162.60L591.98 163.03L591.75 163.59L591.74 164.08L591.31 164.38L590.97 164.88L590.87 165.64L590.39 165.65L589.83 165.88L589.40 166.31L589.17 166.88L588.50 166.56L587.61 166.65L587.11 166.99L586.75 167.54L586.45 167.26L585.89 167.03L585.28 167.03L584.73 167.26L584.15 167.96L584.04 168.55L584.11 168.99L583.62 169.20L582.86 169.77L582.53 170.27L582.42 170.95L581.83 171.46L581.28 171.07L580.68 170.95L580.09 171.07L579.50 171.51L578.80 171.47L578.24 171.71L577.81 172.13L577.58 172.69L577.58 173.30L577.77 173.78L577.21 174.28L576.98 174.84L576.95 175.23L576.41 175.58L575.99 176.37L576.08 177.27L576.84 178.35L577.34 178.69L578.13 178.78L578.50 179.00L579.01 179.12L579.67 179.64L580.26 179.76L580.86 179.64L581.36 179.30L581.74 179.21L582.68 178.47L583.54 178.73L584.13 178.61L584.63 178.27L584.97 177.77L585.07 177.02L585.52 176.20L585.52 175.60L585.36 175.17L585.65 174.95L585.99 174.45L586.10 173.72L586.27 173.65L586.65 174.30L587.15 174.64L588.05 174.73L588.60 174.49L589.37 173.81L589.71 173.31L589.82 172.74L590.26 172.91L590.87 172.91L591.43 172.68L591.81 172.31L592.32 172.30L592.88 172.06L593.31 171.64L593.54 171.08L593.49 170.32L593.74 169.92L593.86 169.33L593.74 168.73L593.56 168.42L594.03 167.80L594.12 166.94L594.63 166.83L595.25 166.36L595.55 166.79L596.05 167.13L596.95 167.22L597.50 166.99L597.98 166.47L598.49 166.47L599.06 166.23L599.42 166.27L600.01 166.16L600.71 165.59L601.15 164.84L601.25 164.40L601.78 164.05L602.12 163.55L602.23 162.96L602.15 162.47L602.39 162.09L602.51 161.49L602.39 160.90L602.14 160.50L602.75 160.13L603.08 159.63L603.20 159.03L603.06 158.39L603.55 158.58L604.19 158.57L604.38 159.01L604.89 159.48L605.01 160.03L605.34 160.54L605.85 160.87L606.74 160.96L607.54 160.54L607.90 159.94L608.25 159.85L608.75 159.51L609.09 159.01L609.19 158.58L609.68 158.37L610.11 157.94L610.37 157.08L610.25 156.49L610.01 156.10L610.12 155.88L610.33 155.79L610.83 156.35L611.39 156.58L612.29 156.49L612.79 156.16L613.13 155.65L613.24 155.06L612.97 153.89L612.59 153.35L612.83 153.11L613.43 153.11L613.99 152.88L614.42 152.45L614.81 151.74L615.32 151.46L615.85 151.80L615.79 152.20L615.91 152.79L616.25 153.30L616.75 153.63L617.34 153.75L617.78 153.68L618.22 153.97L618.82 154.09L619.68 153.83L620.11 153.40L620.29 153.01L621.03 152.60L621.37 152.10L621.49 151.51L621.31 150.80L621.60 150.48L621.83 149.92L621.75 149.05L622.33 148.70L622.75 147.90L622.75 147.30L622.52 146.74L622.23 146.42L622.25 146.13L623.05 146.03L623.75 145.46L623.98 144.90L623.91 144.06L624.54 143.69L624.87 143.18L625.02 141.41L624.59 140.62L624.09 140.28L623.50 140.16L622.74 140.37L622.36 140.28L621.76 139.83L621.17 139.72L620.31 139.98L619.74 140.67L619.11 141.05L618.78 141.55L618.66 142.14L618.75 142.66L618.62 143.28L618.73 143.87L619.04 144.33L618.71 144.83L618.61 145.24L618.15 145.35L617.64 145.68L617.31 146.19L617.19 146.81L616.80 146.90L616.36 147.19L616.36 146.59L616.12 146.03L615.70 145.60L615.14 145.37L614.24 145.46L613.26 146.24L612.48 146.02L611.87 146.15L611.53 145.82L610.97 145.59L610.36 145.59ZM636.29 127.27L635.72 127.96L635.60 128.55L635.67 129.01L635.40 129.31L635.17 129.87L635.17 130.47L635.56 131.23L635.55 131.39L634.45 131.61L633.89 131.84L632.58 133.23L632.00 132.80L631.41 132.68L630.81 132.80L630.27 133.19L629.58 133.02L628.72 133.28L628.15 133.98L628.03 134.57L628.19 135.24L628.00 135.95L628.21 136.71L628.04 137.40L628.27 138.21L627.71 138.26L626.96 137.87L626.35 137.87L625.79 138.10L625.37 138.53L625.14 139.08L625.14 139.69L625.37 140.25L625.62 140.53L625.18 141.12L625.09 142.01L625.32 142.57L625.67 142.93L625.92 144.49L626.49 145.19L627.36 145.45L627.95 145.33L628.28 145.14L628.80 145.35L629.40 145.35L629.96 145.11L630.46 144.55L631.01 144.20L631.35 143.70L631.46 143.02L631.94 142.40L632.06 141.81L631.85 141.04L631.77 140.13L631.39 139.59L631.88 139.17L632.41 139.06L632.91 138.72L633.24 138.22L633.36 137.61L633.70 137.39L633.80 137.81L634.13 138.31L634.95 138.74L635.20 139.41L635.89 139.98L636.79 140.07L637.41 139.79L637.75 139.90L638.35 139.90L639.15 139.48L639.57 138.71L640.10 138.04L640.19 137.15L639.92 136.48L640.53 135.95L640.79 135.09L640.53 134.23L640.11 133.80L639.69 133.61L639.34 133.15L639.94 132.62L640.18 132.01L640.56 131.83L640.99 131.40L641.25 130.51L641.78 129.84L641.90 129.25L642.68 129.51L642.08 130.03L641.85 130.59L641.85 131.19L642.27 131.99L642.78 132.32L643.12 132.42L643.40 132.81L644.64 133.68L645.24 133.80L646.10 133.54L646.67 132.84L646.79 132.23L647.24 132.31L647.83 132.19L648.34 131.86L648.67 131.35L648.79 130.76L648.65 129.63L648.34 128.97L648.69 128.27L648.61 127.42L649.19 126.72L649.30 126.04L649.99 126.21L650.73 126.01L651.10 126.06L651.68 125.95L652.24 126.30L652.40 126.63L652.83 127.05L653.69 127.32L654.55 127.05L655.01 126.55L655.73 126.59L656.52 126.16L656.94 125.37L656.88 124.54L657.10 123.75L656.98 123.16L656.74 122.68L657.36 122.31L657.69 121.81L657.81 121.22L657.58 120.41L657.95 120.23L658.38 119.80L658.64 118.90L659.09 118.59L659.45 118.01L660.11 118.02L660.52 117.87L661.10 118.59L661.79 118.83L662.03 119.45L662.73 120.02L663.32 120.14L664.09 119.93L664.68 120.04L665.27 119.93L665.92 119.42L666.67 119.00L667.10 118.21L667.10 117.61L666.77 116.93L667.03 116.34L667.03 115.74L666.80 115.18L666.16 114.64L666.23 114.21L666.13 113.67L666.79 113.43L667.30 112.85L667.79 113.17L668.38 113.29L668.97 113.17L669.52 112.79L670.69 113.09L671.32 112.95L672.68 113.36L673.27 113.25L673.78 112.90L674.43 112.92L674.99 112.68L675.42 112.26L675.65 111.70L675.65 111.09L675.36 110.46L675.66 110.01L675.78 109.41L675.53 108.57L675.97 108.38L676.40 107.95L676.63 107.39L676.65 106.99L677.02 106.48L677.57 106.71L678.17 106.71L678.73 106.48L679.18 106.02L679.75 106.01L680.32 105.77L681.21 106.04L681.81 106.50L682.40 106.62L683.00 106.50L683.39 106.25L684.27 106.33L684.83 106.10L685.25 105.67L685.48 105.12L685.48 104.51L685.17 103.81L685.46 103.49L685.69 102.93L685.59 102.01L685.87 101.25L686.74 100.99L687.16 100.56L687.32 100.24L688.21 100.32L688.77 100.09L689.35 99.36L690.34 99.09L690.85 99.30L691.45 99.30L692.56 98.73L692.92 98.78L693.51 98.66L694.21 98.09L694.44 97.53L694.44 96.93L693.79 95.49L693.81 94.83L693.58 94.27L692.89 93.70L691.96 93.62L691.87 93.03L691.64 92.47L690.94 91.90L690.35 91.78L689.60 91.98L689.14 91.80L688.26 91.82L687.82 91.54L687.23 91.42L686.36 91.68L685.14 92.57L684.70 92.41L684.09 92.41L683.30 92.83L682.96 93.33L682.86 94.07L682.52 94.42L682.29 94.98L682.29 95.59L682.41 95.95L681.85 96.18L681.40 96.66L680.62 96.61L679.88 96.98L679.62 96.14L678.92 95.57L678.03 95.48L677.47 95.71L676.90 96.41L676.78 97.00L677.04 97.86L677.68 98.40L677.03 98.51L676.55 98.84L675.86 98.67L675.34 98.76L674.71 98.28L673.82 98.19L672.54 98.66L672.12 99.08L671.88 99.65L671.39 99.86L670.96 100.29L670.73 100.85L670.73 101.46L670.96 102.01L671.42 102.46L671.20 102.98L671.20 103.59L671.44 104.14L671.72 104.45L671.31 105.24L670.60 105.62L669.54 105.30L668.95 105.42L668.39 105.83L667.89 105.63L667.29 105.63L666.49 106.06L666.09 106.77L665.17 106.75L664.75 106.33L664.19 106.10L663.59 106.10L663.03 106.33L662.50 106.94L662.02 107.05L661.51 107.39L661.18 107.89L661.06 108.48L661.30 109.31L660.86 109.90L660.74 110.49L660.86 111.09L661.26 111.64L661.00 112.23L660.98 112.63L660.40 112.99L659.97 113.80L659.81 113.45L659.38 113.03L658.52 112.76L657.66 113.03L657.11 113.67L656.58 113.14L655.72 112.88L655.13 112.99L654.56 113.41L654.03 113.42L653.47 113.65L652.55 114.71L652.31 115.27L652.40 116.16L652.74 116.67L653.24 117.00L653.02 117.78L653.18 118.45L652.71 118.77L652.41 119.21L651.48 119.10L650.92 119.33L650.41 119.91L649.64 119.86L649.04 120.13L648.29 120.10L648.04 119.75L647.54 119.42L646.64 119.33L646.08 119.56L645.57 120.15L645.23 120.10L644.63 120.22L644.13 120.56L643.71 121.35L643.71 121.96L644.06 122.67L644.04 123.35L644.46 124.14L643.99 124.76L643.88 125.30L643.28 125.36L642.72 125.59L642.29 126.02L642.08 126.52L641.61 126.83L641.38 127.13L640.57 126.69L639.72 126.76L639.07 126.24L638.47 126.13L637.88 126.24L637.38 126.58L637.08 127.01ZM658.01 109.30L657.50 109.63L657.17 110.14L657.05 110.73L657.17 111.32L657.50 111.83L658.01 112.16L658.60 112.28L659.19 112.16L659.70 111.83L660.03 111.32L660.15 110.73L660.03 110.14L659.70 109.63L659.19 109.30L658.60 109.18ZM668.20 102.46L667.61 102.58L667.10 102.91L666.77 103.42L666.65 104.01L666.77 104.60L667.10 105.11L667.61 105.44L668.20 105.56L668.92 105.43L669.43 105.10L669.76 104.59L669.88 104.00L669.76 103.41L669.43 102.90L668.92 102.57Z"/><path d="M110.5 72V534M245.5 72V534M380.5 72V534M515.5 72V534M651.5 72V534M100 83.5H720M100 158.5H720M100 233.5H720M100 308.5H720M100 383.5H720M100 458.5H720M100 533.5H720" stroke="#b0b0b0" stroke-width="1.11" fill="none"/><path d="M127.8 513.2L692.6 93.4" stroke="#ff0000" stroke-width="2.08" fill="none"/><rect x="100.5" y="72.5" width="620" height="462" fill="none" stroke="#000" stroke-width="1.11"/><path d="M110.5 534.5v4.86M245.5 534.5v4.86M380.5 534.5v4.86M515.5 534.5v4.86M651.5 534.5v4.86M100.5 83.5h-4.86M100.5 158.5h-4.86M100.5 233.5h-4.86M100.5 308.5h-4.86M100.5 383.5h-4.86M100.5 458.5h-4.86M100.5 533.5h-4.86" stroke="#000" stroke-width="1.11" fill="none"/><g font-family='"Liberation Sans", sans-serif' fill="#000" opacity="0.995"><text x="305.1" y="63.5" font-size="17.66" text-anchor="start" textLength="209.4" lengthAdjust="spacingAndGlyphs">Amplifier Output vs Input</text><text x="372.8" y="573.6" font-size="14.72" text-anchor="start" textLength="74.2" lengthAdjust="spacingAndGlyphs">Input (mV)</text><g transform="translate(59.75,374.0) rotate(-90)"><text x="0" y="0" font-size="14.72" text-anchor="start" textLength="139.5" lengthAdjust="spacingAndGlyphs">Amplifier Output (V)</text></g><text x="96.62" y="556.0" font-size="14.72" text-anchor="start" textLength="11.0" lengthAdjust="spacingAndGlyphs">−</text><text x="106.5" y="554.8" font-size="14.72" text-anchor="start" textLength="17.2" lengthAdjust="spacingAndGlyphs">20</text><text x="231.62" y="556.0" font-size="14.72" text-anchor="start" textLength="11.0" lengthAdjust="spacingAndGlyphs">−</text><text x="242.1" y="554.8" font-size="14.72" text-anchor="start" textLength="16.5" lengthAdjust="spacingAndGlyphs">10</text><text x="377.7" y="554.8" font-size="14.72" text-anchor="start" textLength="8.1" lengthAdjust="spacingAndGlyphs">0</text><text x="507.1" y="554.8" font-size="14.72" text-anchor="start" textLength="16.5" lengthAdjust="spacingAndGlyphs">10</text><text x="642.5" y="554.8" font-size="14.72" text-anchor="start" textLength="17.2" lengthAdjust="spacingAndGlyphs">20</text><text x="82.6" y="89.25" font-size="14.72" text-anchor="start" textLength="8.4" lengthAdjust="spacingAndGlyphs">3</text><text x="82.6" y="164.25" font-size="14.72" text-anchor="start" textLength="7.6" lengthAdjust="spacingAndGlyphs">2</text><text x="82.6" y="239.25" font-size="14.72" text-anchor="start" textLength="7.8" lengthAdjust="spacingAndGlyphs">1</text><text x="82.8" y="314.25" font-size="14.72" text-anchor="start" textLength="8.2" lengthAdjust="spacingAndGlyphs">0</text><text x="70.62" y="390.0" font-size="14.72" text-anchor="start" textLength="11.0" lengthAdjust="spacingAndGlyphs">−</text><text x="80.6" y="389.25" font-size="14.72" text-anchor="start" textLength="7.8" lengthAdjust="spacingAndGlyphs">1</text><text x="70.62" y="465.0" font-size="14.72" text-anchor="start" textLength="11.0" lengthAdjust="spacingAndGlyphs">−</text><text x="81.6" y="464.25" font-size="14.72" text-anchor="start" textLength="7.6" lengthAdjust="spacingAndGlyphs">2</text><text x="70.62" y="540.0" font-size="14.72" text-anchor="start" textLength="11.0" lengthAdjust="spacingAndGlyphs">−</text><text x="80.6" y="539.25" font-size="14.72" text-anchor="start" textLength="8.4" lengthAdjust="spacingAndGlyphs">3</text></g><g fill="#000"></g><rect x="107.5" y="79.5" width="165" height="46" rx="2.8" ry="2.8" fill="#fff" fill-opacity="0.8" stroke="#cccccc" stroke-opacity="0.8" stroke-width="1.11"/><circle cx="126.5" cy="92.6" r="1.39" fill="#008000"/><path d="M112 112H141" stroke="#ff0000" stroke-width="2.08"/><g font-family='"Liberation Sans", sans-serif' fill="#000" opacity="0.995"><text x="151.1" y="95.0" font-size="14.72" text-anchor="start" textLength="115.4" lengthAdjust="spacingAndGlyphs">Amplifier Output</text><text x="151.2" y="116.0" font-size="14.72" text-anchor="start" textLength="64.4" lengthAdjust="spacingAndGlyphs">Linear Fit</text></g></svg></body></html>
